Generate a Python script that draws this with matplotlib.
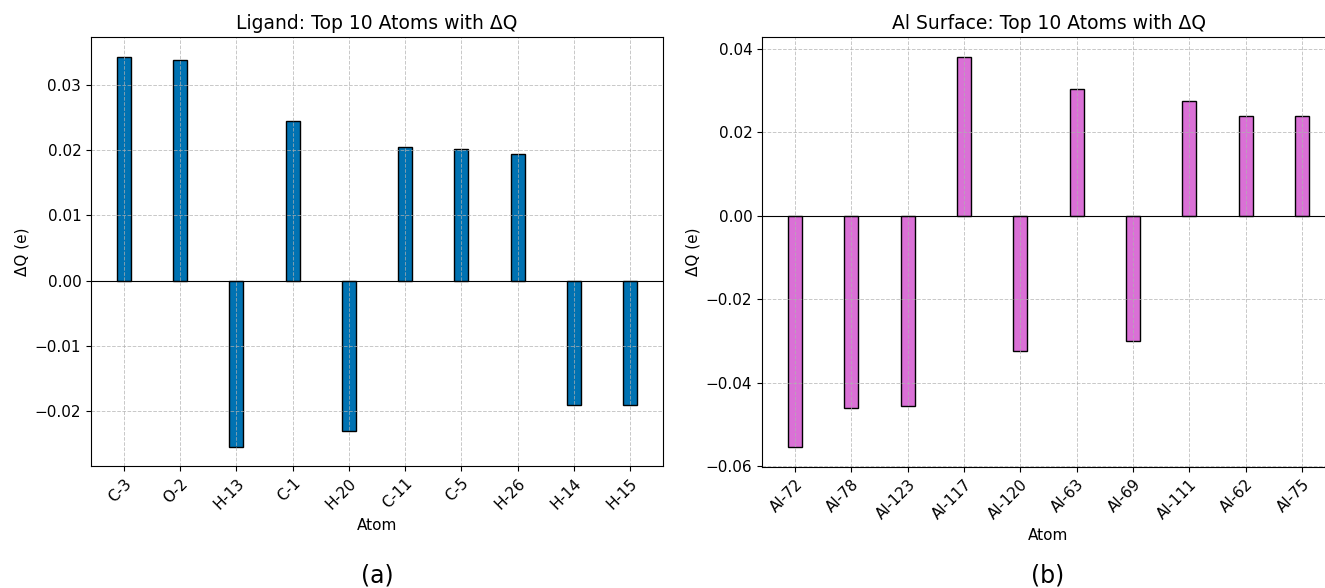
import matplotlib
matplotlib.use("Agg")
import matplotlib.pyplot as plt
import numpy as np

# Ligand data
lig_atoms = ["C-3", "O-2", "H-13", "C-1", "H-20", "C-11", "C-5", "H-26", "H-14", "H-15"]
lig_dq = [0.0343, 0.0338, -0.0254, 0.0244, -0.0231, 0.0204, 0.0201, 0.0193, -0.0191, -0.0190]

# Al surface data
al_atoms = ["Al-72", "Al-78", "Al-123", "Al-117", "Al-120", "Al-63", "Al-69", "Al-111", "Al-62", "Al-75"]
al_dq = [-0.0555, -0.0461, -0.0455, 0.0382, -0.0323, 0.0304, -0.0300, 0.0275, 0.0239, 0.0239]

W, H = 1325, 588
fig = plt.figure(figsize=(W / 100, H / 100), dpi=100)


def px_axes(left, top, right, bottom):
    return fig.add_axes([left / W, 1 - bottom / H, (right - left) / W, (bottom - top) / H])


def draw(ax, atoms, vals, color, title):
    x = np.arange(len(atoms))
    ax.bar(x, vals, width=0.25, color=color, edgecolor="black", linewidth=1.0)
    ax.axhline(0, color="black", linewidth=0.8)
    ax.set_xticks(x)
    ax.set_xticklabels(atoms, rotation=45, ha="right", rotation_mode="anchor")
    ax.set_title(title, fontsize=13.5)
    ax.set_xlabel("Atom", fontsize=11)
    ax.set_ylabel("ΔQ (e)", fontsize=11)
    ax.grid(True, linestyle="--", color="#b0b0b0", alpha=0.7, linewidth=0.7)
    ax.tick_params(labelsize=11)


ax1 = px_axes(91, 37, 663, 466)
draw(ax1, lig_atoms, lig_dq, "#0072B2", "Ligand: Top 10 Atoms with ΔQ")

ax2 = px_axes(762, 37, 1335, 467)
draw(ax2, al_atoms, al_dq, "#DA70D6", "Al Surface: Top 10 Atoms with ΔQ")

fig.text(377 / W, 1 - 576 / H, "(a)", ha="center", va="center", fontsize=17)
fig.text(1048 / W, 1 - 576 / H, "(b)", ha="center", va="center", fontsize=17)

fig.savefig("out.png", dpi=100)
